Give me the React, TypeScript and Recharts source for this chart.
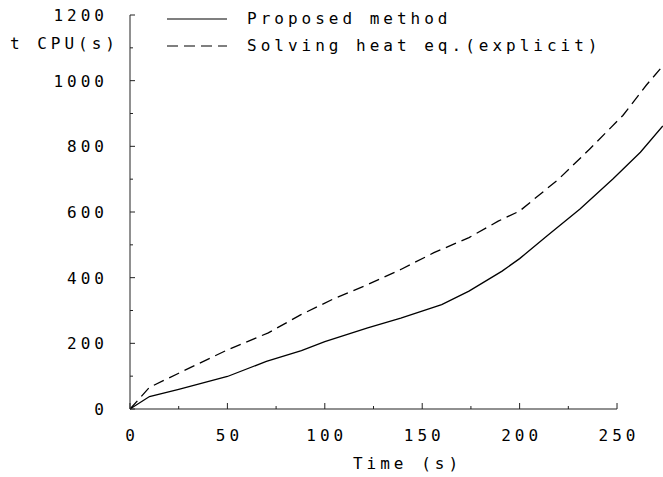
import React from 'react';
import { LineChart, Line, XAxis, YAxis, Legend, ReferenceLine } from 'recharts';

const FONT = '"DejaVu Sans Mono", "Liberation Mono", monospace';
const AXIS = '#222';

// Proposed method
const proposedTime = [0, 10, 25, 50, 70, 88, 100, 122, 139, 160, 174, 191, 200, 214, 231, 248, 262, 273.5];
const proposedCpu = [0, 38, 60, 99, 145, 178, 205, 247, 277, 318, 359, 420, 458, 527, 609, 701, 782, 862];

// Solving heat eq. (explicit)
const explicitTime = [0, 10, 25, 50, 71, 88, 104, 122, 139, 156, 174, 189, 200, 220, 236, 253, 265, 273.5];
const explicitCpu = [0, 66, 109, 180, 232, 288, 334, 379, 425, 476, 522, 572, 603, 700, 792, 894, 986, 1045];

const xTicks = [0, 25, 50, 75, 100, 125, 150, 175, 200, 225, 250];
const xLabelStep = 50;
const yTicks = [0, 100, 200, 300, 400, 500, 600, 700, 800, 900, 1000, 1100, 1200];
const yLabelStep = 200;

const seriesNames = ['Proposed method', 'Solving heat eq.(explicit)'];
const xTitle = 'Time (s)';
const yTitle = 't CPU(s)';

const proposedData = proposedTime.map((t, i) => ({ t, cpu: proposedCpu[i] }));
const explicitData = explicitTime.map((t, i) => ({ t, cpu: explicitCpu[i] }));

const textStyle = { fontFamily: FONT, fontSize: 16, letterSpacing: 4, fill: '#000' } as const;

const XTick = (props: any) => {
  const { x, y, payload } = props;
  const v = payload.value;
  const major = v % xLabelStep === 0;
  return (
    <g>
      <line x1={x} x2={x} y1={y} y2={y - (major ? 6 : 3)} stroke={AXIS} strokeWidth={1} />
      {major && (
        <text x={x + 2} y={y + 32} textAnchor="middle" style={textStyle}>
          {v}
        </text>
      )}
    </g>
  );
};

const YTick = (props: any) => {
  const { x, y, payload } = props;
  const v = payload.value;
  const major = v % yLabelStep === 0;
  return (
    <g>
      <line x1={x} x2={x + (major ? 5 : 3)} y1={y} y2={y} stroke={AXIS} strokeWidth={1} />
      {major && (
        <text x={x - 22} y={y + 6} textAnchor="end" style={textStyle}>
          {v}
        </text>
      )}
    </g>
  );
};

const renderLegend = (props: any) => {
  const items = props.payload || [];
  return (
    <div style={{ fontFamily: FONT, fontSize: 16, letterSpacing: 4, color: '#000' }}>
      {items.map((e: any, i: number) => (
        <div key={i} style={{ display: 'flex', alignItems: 'center', height: 27, whiteSpace: 'nowrap' }}>
          <svg width={62} height={10} style={{ marginRight: 18, display: 'block' }}>
            <line
              x1={0}
              x2={60}
              y1={5}
              y2={5}
              stroke="#000"
              strokeWidth={1.2}
              strokeDasharray={e.payload && e.payload.strokeDasharray}
            />
          </svg>
          <span>{e.value}</span>
        </div>
      ))}
    </div>
  );
};

const XTitle = (props: any) => {
  const vb = props.viewBox || { x: 130, y: 409, width: 533, height: 68 };
  return (
    <text x={vb.x + vb.width / 2 + 11} y={vb.y + 60} textAnchor="middle" style={textStyle}>
      {xTitle}
    </text>
  );
};

const YTitle = (props: any) => {
  const vb = props.viewBox || { x: 0, y: 15, width: 130, height: 394 };
  return (
    <text x={vb.x + vb.width - 11} y={vb.y + 34} textAnchor="end" style={textStyle}>
      {yTitle}
    </text>
  );
};

export default function App() {
  return (
    <div style={{ position: 'absolute', left: 0, top: 0, width: 663, height: 477, background: '#fff' }}>
      <LineChart width={663} height={477} margin={{ top: 15, right: 0, bottom: 0, left: 0 }}>
        <XAxis
          type="number"
          dataKey="t"
          domain={[0, 273.6]}
          ticks={xTicks}
          interval={0}
          height={68}
          axisLine={false}
          tickLine={false}
          tickSize={0}
          tickMargin={0}
          tick={<XTick />}
          label={<XTitle />}
          allowDataOverflow
        />
        <YAxis
          type="number"
          dataKey="cpu"
          domain={[0, 1200]}
          ticks={yTicks}
          interval={0}
          width={130}
          axisLine={{ stroke: AXIS, strokeWidth: 1 }}
          tickLine={false}
          tickSize={0}
          tickMargin={0}
          tick={<YTick />}
          label={<YTitle />}
        />
        <ReferenceLine
          segment={[
            { x: 0, y: 0 },
            { x: 250, y: 0 },
          ]}
          stroke={AXIS}
          strokeWidth={1.2}
          ifOverflow="visible"
        />
        <Legend
          layout="vertical"
          align="center"
          verticalAlign="middle"
          wrapperStyle={{ left: 167, top: 5, width: 'auto' }}
          content={renderLegend}
        />
        <Line
          data={proposedData}
          dataKey="cpu"
          name={seriesNames[0]}
          type="linear"
          stroke="#000"
          strokeWidth={1.3}
          dot={false}
          activeDot={false}
          isAnimationActive={false}
        />
        <Line
          data={explicitData}
          dataKey="cpu"
          name={seriesNames[1]}
          type="linear"
          stroke="#000"
          strokeWidth={1.3}
          strokeDasharray="11 6"
          dot={false}
          activeDot={false}
          isAnimationActive={false}
        />
      </LineChart>
    </div>
  );
}
